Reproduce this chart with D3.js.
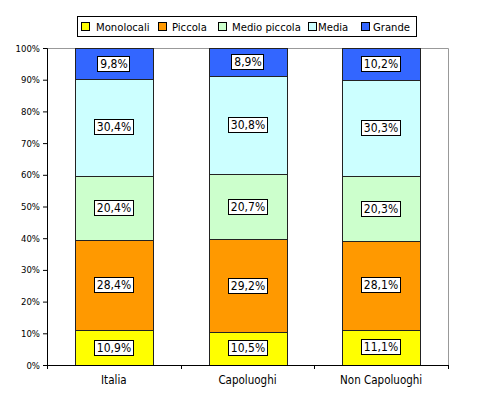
<!DOCTYPE html>
<html>
<head>
<meta charset="utf-8">
<script src="https://cdn.jsdelivr.net/npm/d3@7"></script>
<style>
  body { margin: 0; background: #fff; }
  text { font-family: "DejaVu Sans Condensed", "DejaVu Sans", sans-serif; fill: #000; }
</style>
</head>
<body>
<div id="chart"></div>
<script>
// Data
const categories = ["Italia", "Capoluoghi", "Non Capoluoghi"];
const seriesNames = ["Monolocali", "Piccola", "Medio piccola", "Media", "Grande"];
const monolocali = [10.9, 10.5, 11.1];
const piccola = [28.4, 29.2, 28.1];
const medioPiccola = [20.4, 20.7, 20.3];
const media = [30.4, 30.8, 30.3];
const grande = [9.8, 8.9, 10.2];
const yTicks = [0, 0.1, 0.2, 0.3, 0.4, 0.5, 0.6, 0.7, 0.8, 0.9, 1];
const colors = ["#FFFF00", "#FF9900", "#CCFFCC", "#CCFFFF", "#3366FF"];

const seriesValues = [monolocali, piccola, medioPiccola, media, grande];
const rows = categories.map((c, i) => {
    const r = { cat: c };
    seriesNames.forEach((s, j) => r[s] = seriesValues[j][i]);
    return r;
});

// Chart Dimensions
const W = 477, H = 395;
const margin = { top: 48, right: 29, bottom: 30, left: 47 };
const width = W - margin.left - margin.right;
const height = H - margin.top - margin.bottom;

const svg = d3.select("#chart")
    .append("svg")
    .attr("width", W)
    .attr("height", H);

const g = svg.append("g")
    .attr("transform", `translate(${margin.left},${margin.top})`);

// Scales
const x = d3.scaleBand()
    .domain(categories)
    .range([0, width])
    .paddingInner(0.42)
    .paddingOuter(0.21);

const y = d3.scaleLinear()
    .domain([0, 1])
    .range([height, 0]);

// Plot area border (top and right)
g.append("path")
    .attr("d", `M0,0.5H${width + 0.5}V${height}`)
    .attr("fill", "none")
    .attr("stroke", "#999");

// Stack
const stacked = d3.stack()
    .keys(seriesNames)
    .offset(d3.stackOffsetExpand)(rows);

const layers = g.selectAll(".layer")
    .data(stacked)
    .enter()
    .append("g")
    .attr("fill", (d, i) => colors[i]);

layers.selectAll("rect")
    .data(d => d)
    .enter()
    .append("rect")
    .attr("x", d => Math.round(x(d.data.cat)) + 0.5)
    .attr("y", d => Math.round(y(d[1])) + 0.5)
    .attr("width", Math.round(x.bandwidth()))
    .attr("height", d => Math.round(y(d[0])) - Math.round(y(d[1])))
    .attr("stroke", "#222")
    .attr("stroke-width", 1);

// Value labels
const fmt = v => v.toFixed(1).replace(".", ",") + "%";
stacked.forEach((layer, i) => {
    layer.forEach((d, k) => {
        const cx = x(d.data.cat) + x.bandwidth() / 2;
        const cy = (y(d[0]) + y(d[1])) / 2;
        const lg = g.append("g").attr("transform", `translate(${Math.round(cx)},${Math.round(cy)})`);
        const t = lg.append("text")
            .attr("text-anchor", "middle")
            .attr("dy", "0.36em")
            .style("font-size", "12px")
            .text(fmt(seriesValues[i][k]));
        const bb = t.node().getBBox();
        lg.insert("rect", "text")
            .attr("x", Math.round(bb.x - 3) + 0.5)
            .attr("y", -7.5)
            .attr("width", Math.round(bb.width + 5))
            .attr("height", 15)
            .attr("fill", "#fff")
            .attr("stroke", "#000");
    });
});

// Axes
const yAxis = g.append("g")
    .call(d3.axisLeft(y).tickValues(yTicks).tickFormat(d3.format(".0%")).tickSize(4).tickPadding(3));
yAxis.select(".domain").attr("stroke", "#000");
yAxis.selectAll("text").style("font-size", "9.5px");

const xAxis = g.append("g")
    .attr("transform", `translate(0,${height})`)
    .call(d3.axisBottom(x).tickSize(0).tickPadding(11));
xAxis.select(".domain").attr("d", `M0.5,0.5H${width + 0.5}`).attr("stroke", "#000");
xAxis.selectAll("text").style("font-size", "11.5px");

// Category boundary ticks
const bounds = d3.range(categories.length + 1).map(i => i * width / categories.length);
xAxis.selectAll(".bt")
    .data(bounds)
    .enter()
    .append("line")
    .attr("x1", d => Math.round(d) + 0.5)
    .attr("x2", d => Math.round(d) + 0.5)
    .attr("y1", 0)
    .attr("y2", 4)
    .attr("stroke", "#000");

// Legend
const legend = svg.append("g");
legend.append("rect")
    .attr("x", 77.5).attr("y", 16.5)
    .attr("width", 339).attr("height", 20)
    .attr("fill", "#fff")
    .attr("stroke", "#000");

const markerX = [81, 158, 218, 308, 361];
const labelX = [96, 172, 232, 318, 373];
seriesNames.forEach((s, i) => {
    legend.append("rect")
        .attr("x", markerX[i] + 0.5).attr("y", 22.5)
        .attr("width", 8).attr("height", 8)
        .attr("fill", colors[i])
        .attr("stroke", "#000");
    legend.append("text")
        .attr("x", labelX[i])
        .attr("y", 31)
        .style("font-size", "11.2px")
        .text(s);
});
</script>
</body>
</html>
